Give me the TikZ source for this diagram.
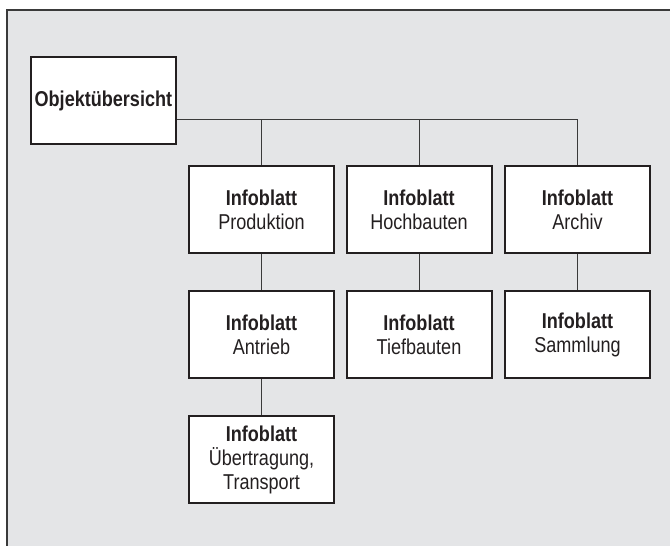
\documentclass[tikz,border=0pt]{standalone}
\usepackage{fontspec}
\setmainfont{Liberation Sans}[FakeStretch=0.84]
\definecolor{bggray}{HTML}{E4E5E7}
\definecolor{ink}{HTML}{231F20}
\definecolor{linegray}{HTML}{3A3A3A}
\begin{document}
\begin{tikzpicture}[x=1pt,y=-1pt,
  box/.style={draw=ink,line width=2pt,fill=white,rectangle,minimum width=145pt,minimum height=87pt,
    align=center,text=ink,inner sep=0pt,font=\fontsize{21.5}{24}\selectfont},
  conn/.style={draw=linegray,line width=1pt}]
\useasboundingbox (0,0) rectangle (670,546);
\fill[bggray] (7,10) rectangle (670,546);
\draw[linegray,line width=1.1pt] (670,10) -- (7,10) -- (7,546);
\node[box] (obj) at (103.4,100.5) {\raisebox{2pt}{\textbf{Objektübersicht}}};
\node[box] (prod) at (261.5,209.5) {\textbf{Infoblatt}\\Produktion};
\node[box] (hoch) at (419,209.5) {\textbf{Infoblatt}\\Hochbauten};
\node[box] (arch) at (577.5,209.5) {\textbf{Infoblatt}\\Archiv};
\node[box] (antr) at (261.5,334.5) {\textbf{Infoblatt}\\Antrieb};
\node[box] (tief) at (419,334.5) {\textbf{Infoblatt}\\Tiefbauten};
\node[box] (samm) at (577.5,334.5) {\textbf{Infoblatt}\\Sammlung};
\node[box] (uebt) at (261.5,459.5) {\textbf{Infoblatt}\\Übertragung,\\Transport};
\coordinate (bus) at ([yshift=-19pt]obj.east);
\draw[conn] (bus) -| (arch.north);
\draw[conn] (prod.north) -- (prod.north |- bus);
\draw[conn] (hoch.north) -- (hoch.north |- bus);
\draw[conn] (prod.south) -- (antr.north);
\draw[conn] (antr.south) -- (uebt.north);
\draw[conn] (hoch.south) -- (tief.north);
\draw[conn] (arch.south) -- (samm.north);
\end{tikzpicture}
\end{document}
